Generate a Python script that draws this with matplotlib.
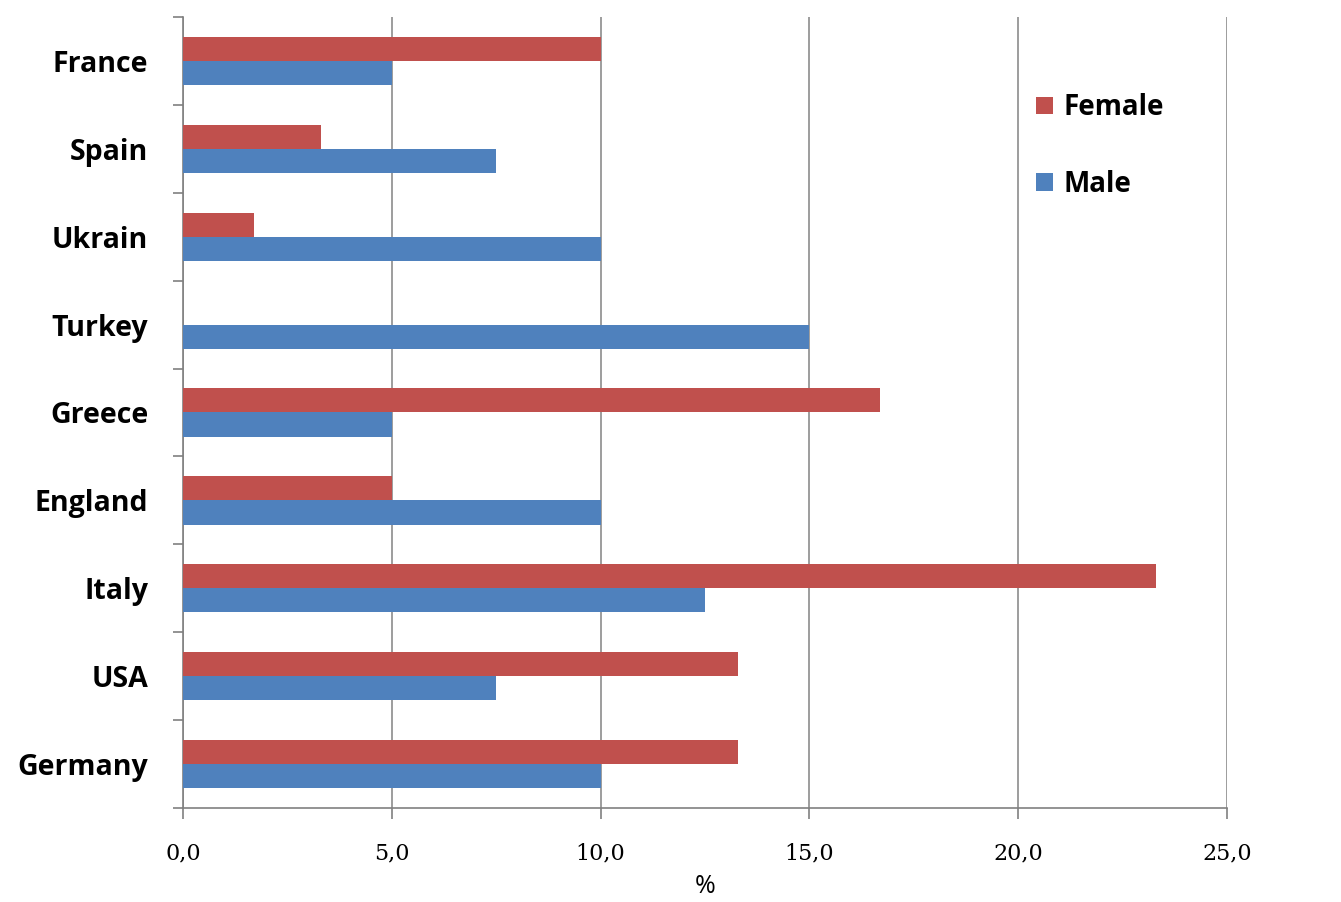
import matplotlib
matplotlib.use("Agg")
import matplotlib.pyplot as plt
import numpy as np

countries = ["France", "Spain", "Ukrain", "Turkey", "Greece", "England", "Italy", "USA", "Germany"]
female = [10.0, 3.3, 1.7, 0.0, 16.7, 5.0, 23.3, 13.3, 13.3]
male = [5.0, 7.5, 10.0, 15.0, 5.0, 10.0, 12.5, 7.5, 10.0]
xticks = [0, 5, 10, 15, 20, 25]

red = "#C0504D"
blue = "#4F81BD"

fig = plt.figure(figsize=(13.41, 9.02), dpi=100)
ax = fig.add_axes([0.1365, 0.1042, 0.7785, 0.877])

y = np.arange(len(countries))
h = 0.275
ax.barh(y - h / 2, female, height=h, color=red, label="Female", zorder=3)
ax.barh(y + h / 2, male, height=h, color=blue, label="Male", zorder=3)

ax.set_ylim(len(countries) - 0.5, -0.5)
ax.set_xlim(0, 25)

# category labels without ticks, separators as minor ticks
ax.set_yticks(y)
ax.set_yticklabels(countries, fontsize=20.5, fontweight="bold", family="Open Sans")
ax.tick_params(axis="y", which="major", length=0, pad=25)
ax.set_yticks(np.arange(-0.5, len(countries), 1), minor=True)
ax.tick_params(axis="y", which="minor", length=7, width=1.2, color="#808080", direction="out")

ax.set_xticks(xticks)
ax.set_xticklabels([("%.1f" % v).replace(".", ",") for v in xticks],
                   fontsize=16, family="DejaVu Serif")
ax.tick_params(axis="x", length=8, width=1.2, color="#808080", direction="out", pad=17)
ax.set_xlabel("%", fontsize=18, family="Open Sans", labelpad=7)

ax.grid(axis="x", color="#8C8C8C", linewidth=1.2, zorder=0)
for s in ["top", "right"]:
    ax.spines[s].set_visible(False)
for s in ["left", "bottom"]:
    ax.spines[s].set_color("#808080")
    ax.spines[s].set_linewidth(1.2)

leg = ax.legend(loc="upper left", bbox_to_anchor=(0.793, 0.935), frameon=False,
                prop={"family": "Open Sans", "weight": "bold", "size": 20},
                handlelength=0.6, handleheight=0.6, handletextpad=0.4, labelspacing=1.7)

fig.savefig("out.png", dpi=100)
